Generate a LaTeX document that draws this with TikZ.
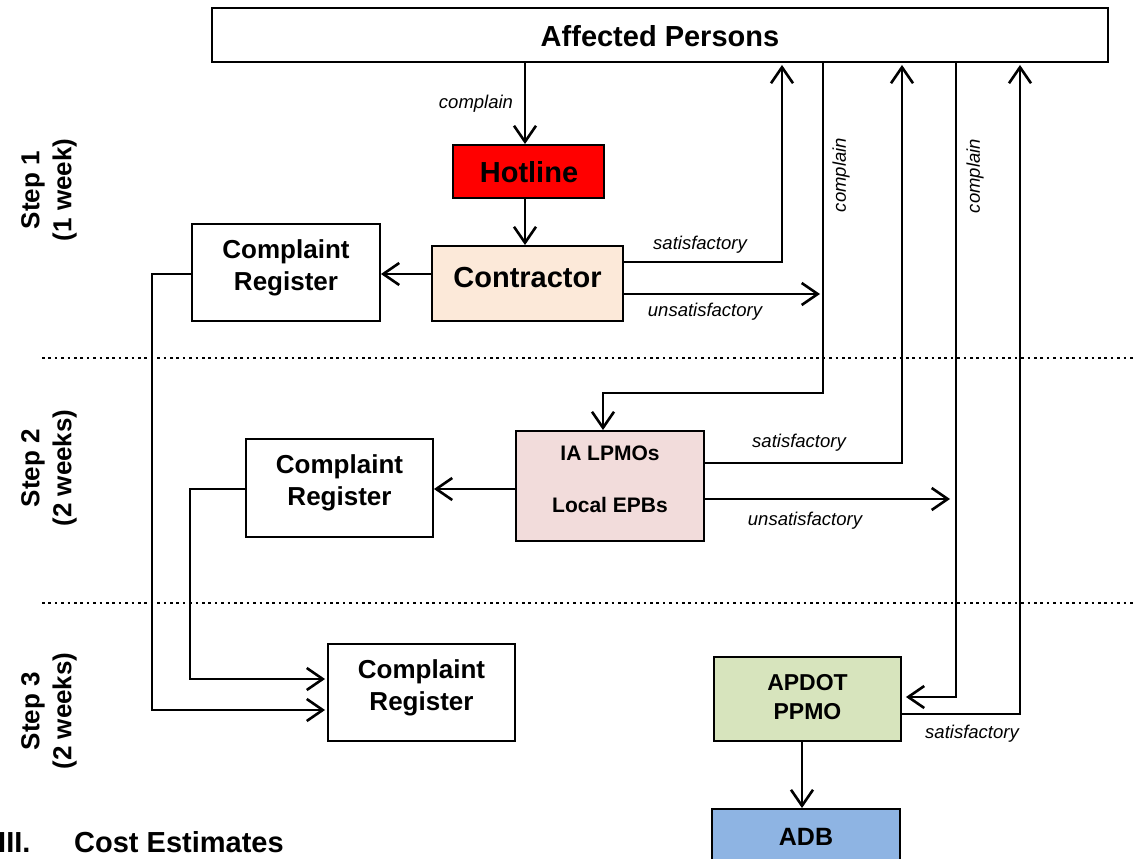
\documentclass[tikz,border=0pt]{standalone}
\usepackage{fontspec}
\setmainfont{Liberation Sans}
\usetikzlibrary{arrows.meta}
\definecolor{hotred}{HTML}{FF0000}
\definecolor{peach}{HTML}{FCE9D9}
\definecolor{pinkbox}{HTML}{F2DCDB}
\definecolor{greenbox}{HTML}{D7E4BD}
\definecolor{bluebox}{HTML}{8EB4E3}
\begin{document}
\begin{tikzpicture}[x=1pt,y=-1pt,
  box/.style={draw=black, line width=1.9pt, inner sep=0pt},
  bigtxt/.style={font=\fontsize{29}{34}\selectfont\bfseries, inner sep=0pt},
  regtxt/.style={font=\fontsize{26}{32}\selectfont\bfseries, align=center, inner sep=0pt},
  steptxt/.style={font=\fontsize{26}{32}\selectfont\bfseries, align=center, rotate=90, inner sep=0pt},
  lab/.style={font=\fontsize{18.5}{22}\selectfont\itshape, inner sep=0pt},
  conn/.style={line width=2.6pt, -{Straight Barb[length=16pt,width=22pt,line width=2.6pt]}},
  sep/.style={line width=2.6pt, dash pattern=on 2.6pt off 3.8pt}
]
\useasboundingbox (0,0) rectangle (1136,859);

% separators
\coordinate (d1a) at (42,358); \coordinate (d1b) at (1136,358);
\coordinate (d2a) at (42,603); \coordinate (d2b) at (1136,603);
\draw[sep] (d1a) -- (d1b);
\draw[sep] (d2a) -- (d2b);

% step labels
\node[steptxt] (st1) at (49,190) {Step 1\\(1 week)};
\node[steptxt] (st2) at (49,468) {Step 2\\(2 weeks)};
\node[steptxt] (st3) at (49,711) {Step 3\\(2 weeks)};

% boxes
\node[box, fill=white, minimum width=896pt, minimum height=54pt] (ap) at (660,35) {};
\node[bigtxt] (apt) at (660,36) {Affected Persons};

\node[box, fill=hotred, minimum width=151pt, minimum height=53pt] (hotline) at (528.5,171.5) {};
\node[bigtxt] (hotlinet) at (529,172) {Hotline};

\node[box, fill=peach, minimum width=191pt, minimum height=75pt] (contractor) at (527.5,283.5) {};
\node[bigtxt] (contractort) at (527.5,277.5) {Contractor};

\node[box, fill=white, minimum width=188pt, minimum height=97pt] (cr1) at (286,272.5) {};
\node[regtxt] (cr1t) at (286,268) {Complaint\\Register};

\node[box, fill=pinkbox, minimum width=188pt, minimum height=110pt] (ia) at (610,486) {};
\node[font=\fontsize{21}{26}\selectfont\bfseries, align=center, inner sep=0pt] (iat) at (610,479) {IA LPMOs\\[26pt]Local EPBs};

\node[box, fill=white, minimum width=187pt, minimum height=98pt] (cr2) at (339.5,488) {};
\node[regtxt] (cr2t) at (339.5,483) {Complaint\\Register};

\node[box, fill=white, minimum width=187pt, minimum height=97pt] (cr3) at (421.5,692.5) {};
\node[regtxt] (cr3t) at (421.5,688) {Complaint\\Register};

\node[box, fill=greenbox, minimum width=187pt, minimum height=84pt] (apdot) at (807.5,699) {};
\node[font=\fontsize{23}{29}\selectfont\bfseries, align=center, inner sep=0pt] (apdott) at (807.5,697) {APDOT\\PPMO};

\node[box, fill=bluebox, minimum width=188pt, minimum height=70pt] (adb) at (806,844) {};
\node[font=\fontsize{25}{30}\selectfont\bfseries, inner sep=0pt] (adbt) at (806,837) {ADB};

% heading
\node[font=\fontsize{29}{34}\selectfont\bfseries, anchor=base west, inner sep=0pt] (h1) at (-2,852) {III.};
\node[font=\fontsize{29}{34}\selectfont\bfseries, anchor=base west, inner sep=0pt] (h2) at (74,852) {Cost Estimates};

% helper coordinates
\coordinate (c1) at (525,0);
\coordinate (r1) at (0,274);
\coordinate (s1) at (782,262);
\coordinate (u1) at (820,294);
\coordinate (k1) at (823,393);
\coordinate (k2) at (603,393);
\coordinate (s2) at (902,463);
\coordinate (u2) at (950,499);
\coordinate (r2) at (0,489);
\coordinate (k3) at (956,697);
\coordinate (s3) at (1020,714);
\coordinate (c2) at (802,0);
\coordinate (l1) at (152,274);
\coordinate (l1b) at (152,710);
\coordinate (l2) at (190,489);
\coordinate (l2b) at (190,679);

% connectors
\draw[conn] (c1 |- ap.south) -- (c1 |- hotline.north);
\draw[conn] (c1 |- hotline.south) -- (c1 |- contractor.north);
\draw[conn] (contractor.west |- r1) -- (cr1.east |- r1);
\draw[conn, shorten >=2pt] (contractor.east |- s1) -- (s1) -- (s1 |- ap.south);
\draw[conn] (contractor.east |- u1) -- (u1);
\draw[conn] (k1 |- ap.south) -- (k1) -- (k2) -- (k2 |- ia.north);
\draw[conn, shorten >=2pt] (ia.east |- s2) -- (s2) -- (s2 |- ap.south);
\draw[conn] (ia.east |- u2) -- (u2);
\draw[conn] (ia.west |- r2) -- (cr2.east |- r2);
\draw[conn, shorten >=4pt] (k3 |- ap.south) -- (k3) -- (apdot.east |- k3);
\draw[conn, shorten >=2pt] (apdot.east |- s3) -- (s3) -- (s3 |- ap.south);
\draw[conn] (c2 |- apdot.south) -- (c2 |- adb.north);
\draw[conn, shorten >=2pt] (cr1.west |- l1) -- (l1) -- (l1b) -- (cr3.west |- l1b);
\draw[conn, shorten >=2pt] (cr2.west |- l2) -- (l2) -- (l2b) -- (cr3.west |- l2b);

% connector labels
\node[lab] (lc1) at (476,104) {complain};
\node[lab] (ls1) at (700,245) {satisfactory};
\node[lab] (lu1) at (705,312) {unsatisfactory};
\node[lab, rotate=90] (lc2) at (841,175) {complain};
\node[lab] (ls2) at (799,443) {satisfactory};
\node[lab] (lu2) at (805,521) {unsatisfactory};
\node[lab, rotate=90] (lc3) at (975,176) {complain};
\node[lab] (ls3) at (972,734) {satisfactory};
\end{tikzpicture}
\end{document}
